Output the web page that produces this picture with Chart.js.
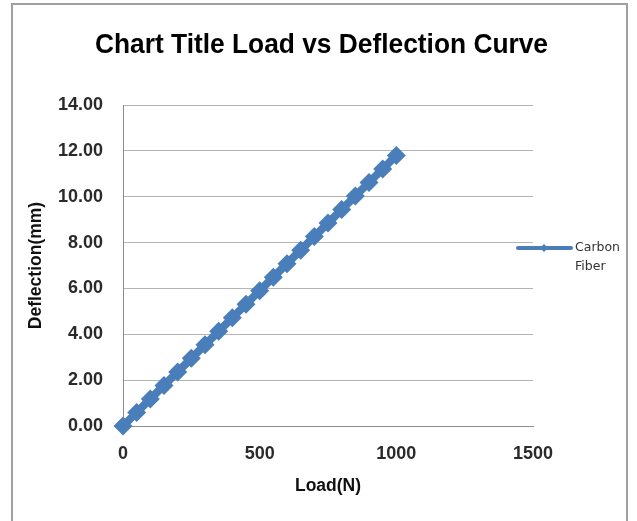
<!DOCTYPE html>
<html>
<head>
<meta charset="utf-8">
<script src="https://cdn.jsdelivr.net/npm/chart.js@4.4.1/dist/chart.umd.min.js"></script>
<style>
	html, body { margin: 0; padding: 0; background: #fff; }
	#wrap { position: relative; width: 637px; height: 521px; }
	#frame {
		position: absolute; left: 11px; top: 3px; width: 617px; height: 530px;
		border: 2px solid #a0a0a0; box-sizing: border-box; pointer-events: none;
	}
</style>
</head>
<body>
<div id="wrap">
	<canvas id="loadChart" width="637" height="521"></canvas>
	<div id="frame"></div>
</div>
<script>
const loads = [0, 50, 100, 150, 200, 250, 300, 350, 400, 450, 500,
	550, 600, 650, 700, 750, 800, 850, 900, 950, 1000];
const deflection = [0.00, 0.59, 1.18, 1.77, 2.36, 2.95, 3.54, 4.13, 4.72, 5.31, 5.90,
	6.49, 7.08, 7.67, 8.26, 8.85, 9.44, 10.03, 10.62, 11.21, 11.80];
const seriesName = ['Carbon', 'Fiber'];
const chartTitle = 'Chart Title Load vs Deflection Curve';
const xTicks = [0, 500, 1000, 1500];
const yTicks = [0, 2, 4, 6, 8, 10, 12, 14];

const BLUE = '#4A7EBB';
const SANS = '"Liberation Sans", Arial, sans-serif';
const tickFont = { family: SANS, size: 18, weight: 'bold' };
const axisTitleFont = { family: SANS, size: 17.5, weight: 'bold' };

// title drawn by hand so it can be squeezed a little (the original is Calibri)
const squeezedTitle = {
	id: 'squeezedTitle',
	afterDraw(chart) {
		const ctx = chart.ctx;
		ctx.save();
		ctx.font = 'bold 28px ' + SANS;
		ctx.fillStyle = '#000';
		ctx.textBaseline = 'alphabetic';
		ctx.textAlign = 'center';
		const w = ctx.measureText(chartTitle).width;
		const k = 453 / w;
		ctx.translate(321.5, 53);
		ctx.scale(k, 1);
		ctx.fillText(chartTitle, 0, 0);
		ctx.restore();
	}
};

// legend drawn by hand: a line with a small diamond, text on two lines
const sideLegend = {
	id: 'sideLegend',
	afterDraw(chart) {
		const ctx = chart.ctx;
		const y = 248;
		const x0 = chart.chartArea.right - 15;
		ctx.save();
		ctx.strokeStyle = BLUE;
		ctx.lineWidth = 4;
		ctx.lineCap = 'round';
		ctx.beginPath();
		ctx.moveTo(x0, y);
		ctx.lineTo(x0 + 53, y);
		ctx.stroke();
		ctx.fillStyle = BLUE;
		ctx.beginPath();
		ctx.moveTo(x0 + 26, y - 4);
		ctx.lineTo(x0 + 30, y);
		ctx.lineTo(x0 + 26, y + 4);
		ctx.lineTo(x0 + 22, y);
		ctx.closePath();
		ctx.fill();
		ctx.fillStyle = '#333';
		ctx.font = '12.5px "DejaVu Sans", sans-serif';
		ctx.textBaseline = 'middle';
		ctx.fillText(seriesName[0], x0 + 57, y);
		ctx.fillText(seriesName[1], x0 + 57, y + 19);
		ctx.restore();
	}
};

new Chart(document.getElementById('loadChart').getContext('2d'), {
	type: 'line',
	data: {
		datasets: [{
			label: seriesName.join(' '),
			data: loads.map((l, i) => ({ x: l, y: deflection[i] })),
			borderColor: BLUE,
			backgroundColor: BLUE,
			borderWidth: 8,
			pointStyle: 'rectRot',
			pointRadius: 9.5,
			pointBorderWidth: 0,
			pointBackgroundColor: BLUE,
			tension: 0,
			clip: false
		}]
	},
	options: {
		responsive: false,
		animation: false,
		layout: { padding: { left: 0, right: 104, top: 105, bottom: 0 } },
		scales: {
			x: {
				type: 'linear',
				min: 0, max: 1500,
				afterBuildTicks: s => { s.ticks = xTicks.map(v => ({ value: v })); },
				afterFit: s => { s.height = 95; },
				ticks: { font: tickFont, color: '#2a2a2a', padding: 17, maxRotation: 0,
					callback: v => String(v) },
				grid: { display: false, drawTicks: false },
				border: { display: true, color: '#8c8c8c', width: 1 },
				title: { display: true, text: 'Load(N)', color: '#111',
					font: axisTitleFont, padding: { top: 0, bottom: 24 } }
			},
			y: {
				min: 0, max: 14,
				afterBuildTicks: s => { s.ticks = yTicks.map(v => ({ value: v })); },
				afterFit: s => { s.width = 123; },
				ticks: { font: tickFont, color: '#2a2a2a', padding: 20, callback: v => v.toFixed(2) },
				grid: { color: '#b4b4b4', lineWidth: 1, drawTicks: false },
				border: { display: true, color: '#8c8c8c', width: 1 },
				title: { display: true, text: 'Deflection(mm)', color: '#111',
					font: axisTitleFont, padding: { top: 26, bottom: 0 } }
			}
		},
		plugins: {
			legend: { display: false },
			tooltip: { enabled: false },
			title: { display: false }
		}
	},
	plugins: [squeezedTitle, sideLegend]
});
</script>
</body>
</html>
